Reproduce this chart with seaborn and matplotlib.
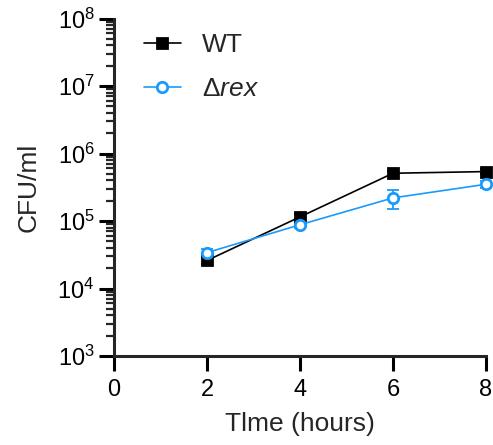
import matplotlib
matplotlib.use("Agg")
import matplotlib.pyplot as plt
import matplotlib.ticker as mticker
import numpy as np
import pandas as pd
import seaborn as sns

# time points (hours)
time_h = [2, 4, 6, 8]
# mean CFU/ml
wt_cfu = [2.6e4, 1.15e5, 5.1e5, 5.4e5]
rex_cfu = [3.4e4, 8.8e4, 2.2e5, 3.5e5]
# error bar half-widths (SD)
wt_sd = [3.0e3, 1.0e4, 4.0e4, 5.0e4]
rex_sd = [4.0e3, 8.0e3, 7.0e4, 4.0e4]

labels = ["WT", r"$\Delta\mathit{rex}$"]
colors = ["black", "#1a9bfc"]

sns.set_style("ticks")
plt.rcParams["font.family"] = ["Liberation Sans", "DejaVu Sans"]
plt.rcParams["mathtext.fontset"] = "custom"
plt.rcParams["mathtext.rm"] = "Liberation Sans"
plt.rcParams["mathtext.it"] = "Liberation Sans:italic"

df = pd.concat([
    pd.DataFrame({"time": time_h, "cfu": wt_cfu, "sd": wt_sd, "strain": labels[0]}),
    pd.DataFrame({"time": time_h, "cfu": rex_cfu, "sd": rex_sd, "strain": labels[1]}),
])

fig = plt.figure(figsize=(4.93, 4.45), dpi=100)
ax = fig.add_axes([0.2312, 0.2, 0.9858 - 0.2312, 0.9584 - 0.2])

ax.set_yscale("log")

for name, col, mk, mfc in [(labels[0], colors[0], "s", colors[0]),
                           (labels[1], colors[1], "o", "white")]:
    d = df[df.strain == name]
    ax.errorbar(d.time, d.cfu, yerr=d.sd, fmt="none", ecolor=col,
                elinewidth=1.3, capsize=4, capthick=1.3, clip_on=False, zorder=2)
    sns.lineplot(x=d.time, y=d.cfu, ax=ax, color=col, marker=mk, markersize=7.5,
                 markerfacecolor=mfc, markeredgecolor=col, markeredgewidth=2,
                 linewidth=1.2, label=name, clip_on=False, zorder=3)

ax.set_xlim(0, 8)
ax.set_ylim(1e3, 1e8)
ax.set_xticks([0, 2, 4, 6, 8])
ax.yaxis.set_major_locator(mticker.LogLocator(base=10, numticks=10))
ax.yaxis.set_minor_locator(mticker.LogLocator(base=10, subs=np.arange(2, 10), numticks=10))
ax.yaxis.set_minor_formatter(mticker.NullFormatter())
ax.yaxis.set_major_formatter(mticker.FuncFormatter(lambda v, p: r"$10^{%d}$" % round(np.log10(v))))

for s in ["top", "right"]:
    ax.spines[s].set_visible(False)
for s in ["left", "bottom"]:
    ax.spines[s].set_linewidth(2.2)
ax.tick_params(axis="both", which="major", direction="out", length=10.5, width=2.2,
               labelsize=17, color="black", labelcolor="black")
ax.tick_params(axis="y", which="minor", direction="out", length=5.5, width=1.6)
ax.tick_params(axis="x", which="major", pad=6)

ax.set_xlabel("Tlme (hours)", fontsize=19, labelpad=8)
ax.set_ylabel("CFU/ml", fontsize=19, labelpad=12)

leg = ax.legend(loc="upper left", frameon=False, fontsize=19, handlelength=1.4,
                handletextpad=0.8, labelspacing=0.75, borderaxespad=0.1,
                bbox_to_anchor=(0.045, 0.995))

fig.savefig("out.png", dpi=100)
